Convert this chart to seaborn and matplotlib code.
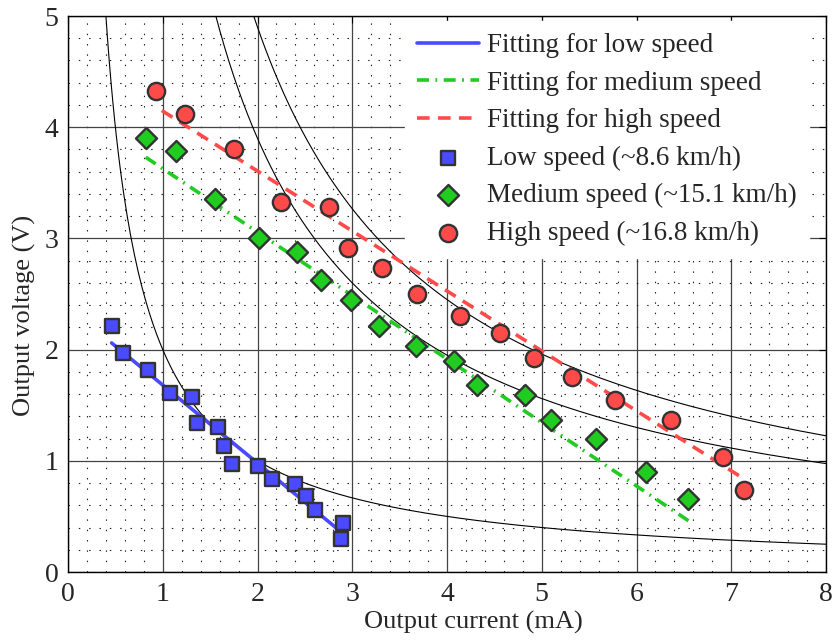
import numpy as np
import pandas as pd
import matplotlib
matplotlib.use("Agg")
import matplotlib.pyplot as plt
import seaborn as sns
from matplotlib.ticker import MultipleLocator

# measured points (output current mA, output voltage V)
low_i = [0.46, 0.58, 0.84, 1.08, 1.31, 1.36, 1.58, 1.65, 1.73, 2.00, 2.15, 2.40, 2.51, 2.61, 2.90, 2.88]
low_v = [2.21, 1.97, 1.82, 1.61, 1.57, 1.34, 1.30, 1.13, 0.97, 0.95, 0.84, 0.79, 0.68, 0.56, 0.44, 0.30]
med_i = [0.82, 1.14, 1.55, 2.02, 2.42, 2.67, 2.99, 3.28, 3.67, 4.07, 4.32, 4.82, 5.10, 5.57, 6.10, 6.54]
med_v = [3.90, 3.79, 3.35, 3.00, 2.88, 2.63, 2.45, 2.21, 2.03, 1.90, 1.68, 1.59, 1.37, 1.20, 0.90, 0.66]
high_i = [0.93, 1.24, 1.75, 2.25, 2.75, 2.95, 3.31, 3.68, 4.14, 4.56, 4.92, 5.32, 5.77, 6.36, 6.91, 7.13]
high_v = [4.33, 4.12, 3.80, 3.33, 3.28, 2.91, 2.73, 2.50, 2.30, 2.15, 1.92, 1.75, 1.55, 1.37, 1.03, 0.74]

# linear fitting lines (end points)
fit_low_i = [0.46, 2.84]
fit_low_v = [2.06, 0.39]
fit_med_i = [0.82, 6.55]
fit_med_v = [3.73, 0.46]
fit_high_i = [0.99, 7.13]
fit_high_v = [4.15, 0.84]

# constant power reference curves (mW)
power_levels = [2.0, 7.8, 9.8]

sns.set_theme(style="white")
plt.rcParams["font.family"] = ["Liberation Serif", "DejaVu Serif"]

W, H = 836, 643
fig = plt.figure(figsize=(W / 100, H / 100), dpi=100)
ax = fig.add_axes([68 / W, 1 - 572 / H, 758 / W, 556 / H])

for p in power_levels:
    cur = np.linspace(p / 5.3, 8, 400)
    ax.plot(cur, p / cur, color="black", lw=0.8, zorder=2)

blue = "#4a4aff"
green = "#1fcc1f"
red = "#ff4a4a"

sns.lineplot(x=fit_low_i, y=fit_low_v, ax=ax, color=blue, lw=2.6, sort=False,
             estimator=None, label="Fitting for low speed", zorder=3)
sns.lineplot(x=fit_med_i, y=fit_med_v, ax=ax, color=green, lw=2.6, sort=False,
             estimator=None, label="Fitting for medium speed", zorder=3)
ax.lines[-1].set_linestyle((0, (3.3, 1.8, 0.5, 1.8)))
sns.lineplot(x=fit_high_i, y=fit_high_v, ax=ax, color=red, lw=2.6, sort=False,
             estimator=None, label="Fitting for high speed", zorder=3)
ax.lines[-1].set_linestyle((0, (3.5, 2.3)))

sns.scatterplot(x=low_i, y=low_v, ax=ax, marker="s", s=110, color=blue,
                edgecolor="#333333", linewidth=1.7, label="Low speed (~8.6 km/h)", zorder=4)
sns.scatterplot(x=med_i, y=med_v, ax=ax, marker="D", s=115, color=green,
                edgecolor="#333333", linewidth=1.7, label="Medium speed (~15.1 km/h)", zorder=4)
sns.scatterplot(x=high_i, y=high_v, ax=ax, marker="o", s=155, color=red,
                edgecolor="#333333", linewidth=1.7, label="High speed (~16.8 km/h)", zorder=4)

ax.set_xlim(0, 8)
ax.set_ylim(0, 5)
ax.xaxis.set_major_locator(MultipleLocator(1))
ax.yaxis.set_major_locator(MultipleLocator(1))
ax.xaxis.set_minor_locator(MultipleLocator(0.2))
ax.yaxis.set_minor_locator(MultipleLocator(0.2))
ax.grid(which="major", color="#444444", lw=0.9, ls="-")
ax.grid(which="minor", color="#222222", lw=0.8, ls=(0, (1.3, 8)))
ax.set_axisbelow(True)
ax.tick_params(which="major", direction="in", length=5, width=0.8, color="black",
               top=True, right=True, labelsize=20, pad=7)
ax.tick_params(which="minor", length=0)
for sp in ax.spines.values():
    sp.set_color("black")
    sp.set_linewidth(1.0)

ax.set_xlabel("Output current (mA)", fontsize=19)
ax.set_ylabel("Output voltage (V)", fontsize=19)
ax.xaxis.set_label_coords((473 - 68) / 758, -(611 - 572) / 556)
ax.yaxis.set_label_coords(-(68 - 36) / 758, (572 - 315) / 556)

handles, labels = ax.get_legend_handles_labels()
leg = ax.legend(handles, labels, loc="upper left",
                bbox_to_anchor=(405 / W, 1 - 21 / H), bbox_transform=fig.transFigure,
                fontsize=19.5, frameon=True, facecolor="white", edgecolor="white",
                framealpha=1, fancybox=False, handlelength=2.3, handletextpad=0.28,
                labelspacing=0.46, borderaxespad=0, borderpad=0.45)
leg.set_zorder(5)

fig.savefig("out.png", dpi=100)
